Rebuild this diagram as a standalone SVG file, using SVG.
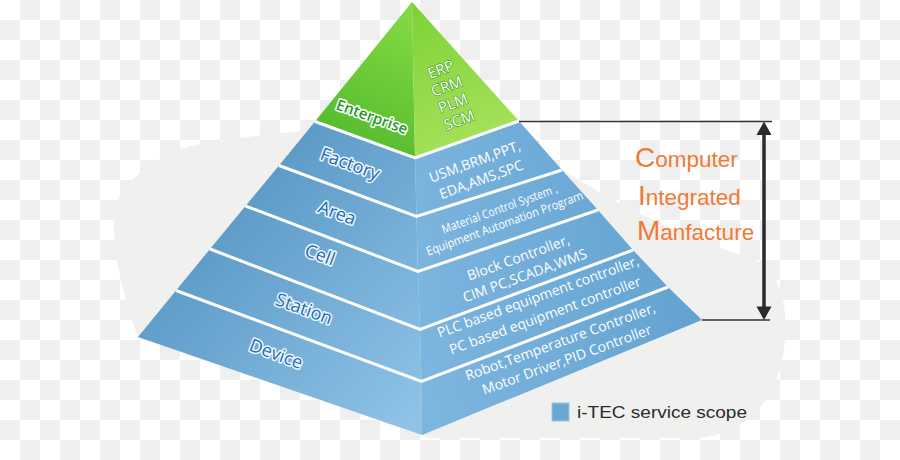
<svg xmlns="http://www.w3.org/2000/svg" width="900" height="460" viewBox="0 0 900 460">
<defs>
<pattern id="checker" width="40" height="40" patternUnits="userSpaceOnUse">
<rect width="40" height="40" fill="#ffffff"/>
<rect x="20" y="0" width="20" height="20" fill="#efefef"/>
<rect x="0" y="20" width="20" height="20" fill="#efefef"/>
</pattern>
<linearGradient id="blueL" gradientUnits="userSpaceOnUse" x1="160" y1="170" x2="420" y2="420">
<stop offset="0" stop-color="#4f90bf"/>
<stop offset="1" stop-color="#90c3e7"/>
</linearGradient>
<linearGradient id="blueR" gradientUnits="userSpaceOnUse" x1="420" y1="300" x2="700" y2="250">
<stop offset="0" stop-color="#7cb5de"/>
<stop offset="1" stop-color="#62a2d0"/>
</linearGradient>
<linearGradient id="greenL" gradientUnits="userSpaceOnUse" x1="400" y1="10" x2="330" y2="150">
<stop offset="0" stop-color="#82da42"/>
<stop offset="1" stop-color="#52b82b"/>
</linearGradient>
<linearGradient id="greenR" gradientUnits="userSpaceOnUse" x1="415" y1="10" x2="470" y2="150">
<stop offset="0" stop-color="#7fd23a"/>
<stop offset="1" stop-color="#a6e25a"/>
</linearGradient>
<style>
.bl{fill:url(#blueL)}
.br{fill:url(#blueR)}
.sep{fill:none;stroke:#ffffff;stroke-width:3;stroke-linejoin:miter}
.lab{font-family:"Open Sans","Noto Sans",sans-serif;font-size:18px;fill:#1e6db4;stroke:#eef7ff;stroke-width:3;paint-order:stroke;stroke-linejoin:round;text-anchor:middle}
.rt{font-family:"Open Sans","Noto Sans",sans-serif;font-size:14px;fill:#ffffff;text-anchor:middle}
.ent{font-family:"Open Sans","Noto Sans",sans-serif;font-size:15px;font-weight:600;fill:#1f9a2a;stroke:#ffffff;stroke-width:3;paint-order:stroke;stroke-linejoin:round;text-anchor:middle}
.erp{font-family:"Open Sans","Noto Sans",sans-serif;font-size:15px;fill:#ffffff;stroke:#44a322;stroke-width:1.4;paint-order:stroke;stroke-linejoin:round;text-anchor:middle}
.cim{font-family:"Liberation Sans",Arial,sans-serif;font-size:22.5px;fill:#f07b35}
.cap{font-size:28px}
.dim{stroke:#333333;stroke-width:1.6;fill:none}
</style>
</defs>

<rect width="900" height="460" fill="url(#checker)"/>
<path d="M138,337 C126,305 112,255 114,215 C118,185 150,160 187,147 C230,138 270,134 306,131 L420,120 L560,168 C640,220 700,240 760,262 C790,285 788,330 782,360 C772,405 745,432 700,438 L430,438 Z" fill="#f0f0ef"/>

<g id="enterprise">
<polygon points="412,2 315,121.5 415,158" fill="url(#greenL)"/>
<polygon points="412,2 415,158 519,121" fill="url(#greenR)"/>
<text class="ent" transform="translate(372,117) rotate(20)" y="5">Enterprise</text>
<g class="erp" transform="translate(450,95) rotate(-20)">
<text y="-22">ERP</text>
<text y="-4">CRM</text>
<text y="14">PLM</text>
<text y="32">SCM</text>
</g>
</g>

<g id="factory">
<polygon class="bl" points="315,121.5 279,165.5 416.5,216.5 415,158"/>
<polygon class="br" points="415,158 416.5,216.5 562,170 519,121"/>
<text class="lab" transform="translate(350,164) rotate(20)" y="6">Factory</text>
<g class="rt" transform="translate(478,170.5) rotate(-20)">
<text y="-4.5">USM,BRM,PPT,</text>
<text y="14.5">EDA,AMS,SPC</text>
</g>
</g>

<g id="area">
<polygon class="bl" points="279,165.5 245.5,206 418,271.5 416.5,216.5"/>
<polygon class="br" points="416.5,216.5 418,271.5 598,210 562,170"/>
<text class="lab" transform="translate(337,213) rotate(20)" y="6">Area</text>
<g class="rt" transform="translate(502,216) rotate(-20)" style="font-size:12px">
<text y="-3.3" textLength="122" lengthAdjust="spacingAndGlyphs">Material Control System ,</text>
<text y="12" textLength="166" lengthAdjust="spacingAndGlyphs">Equipment Automation Program</text>
</g>
</g>

<g id="cell">
<polygon class="bl" points="245.5,206 210,249 420,329.5 418,271.5"/>
<polygon class="br" points="418,271.5 420,329.5 633,250 598,210"/>
<text class="lab" transform="translate(320,255) rotate(20)" y="6">Cell</text>
<g class="rt" transform="translate(521.5,266.5) rotate(-20)">
<text y="-4.5">Block Controller,</text>
<text y="14.5">CIM PC,SCADA,WMS</text>
</g>
</g>

<g id="station">
<polygon class="bl" points="210,249 176,290.5 421.5,381.5 420,329.5"/>
<polygon class="br" points="420,329.5 421.5,381.5 668,287 633,250"/>
<text class="lab" transform="translate(304,309) rotate(20)" y="6">Station</text>
<g class="rt" transform="translate(541.5,306) rotate(-20)">
<text y="-5">PLC based equipment controller,</text>
<text y="15">PC based equipment controller</text>
</g>
</g>

<g id="device">
<polygon class="bl" points="176,290.5 138,337 422,435 421.5,381.5"/>
<polygon class="br" points="421.5,381.5 422,435 702,320 668,287"/>
<text class="lab" transform="translate(276,354) rotate(20)" y="6">Device</text>
<g class="rt" transform="translate(563.5,350.5) rotate(-20)">
<text y="-4.5">Robot,Temperature Controller,</text>
<text y="14.5">Motor Driver,PID Controller</text>
</g>
</g>

<g id="separators">
<polyline class="sep" points="315,121.5 415,158 519,121"/>
<polyline class="sep" points="279,165.5 416.5,216.5 562,170"/>
<polyline class="sep" points="245.5,206 418,271.5 598,210"/>
<polyline class="sep" points="210,249 420,329.5 633,250"/>
<polyline class="sep" points="176,290.5 421.5,381.5 668,287"/>
</g>

<g id="connectors">
<line class="dim" x1="519" y1="121.5" x2="772" y2="121.5"/>
<line class="dim" x1="702" y1="320" x2="770" y2="320"/>
<line x1="764" y1="132" x2="764" y2="309" stroke="#2a2a2a" stroke-width="3.5"/>
<polygon points="764,121.5 756.5,135 771.5,135" fill="#2a2a2a"/>
<polygon points="764,320 756.5,306.5 771.5,306.5" fill="#2a2a2a"/>
</g>

<g id="cim-label">
<text class="cim" x="635" y="167"><tspan class="cap">C</tspan>omputer</text>
<text class="cim" x="638" y="204.5"><tspan class="cap">I</tspan>ntegrated</text>
<text class="cim" x="637" y="240"><tspan class="cap">M</tspan>anfacture</text>
</g>

<g id="legend">
<rect x="552" y="403" width="17" height="18" fill="#6aa7d3" stroke="#9cc6e6" stroke-width="1"/>
<text x="577" y="418" font-family="'Liberation Sans',Arial,sans-serif" font-size="17" fill="#2b2b2b" textLength="170" lengthAdjust="spacingAndGlyphs">i-TEC service scope</text>
</g>
</svg>
